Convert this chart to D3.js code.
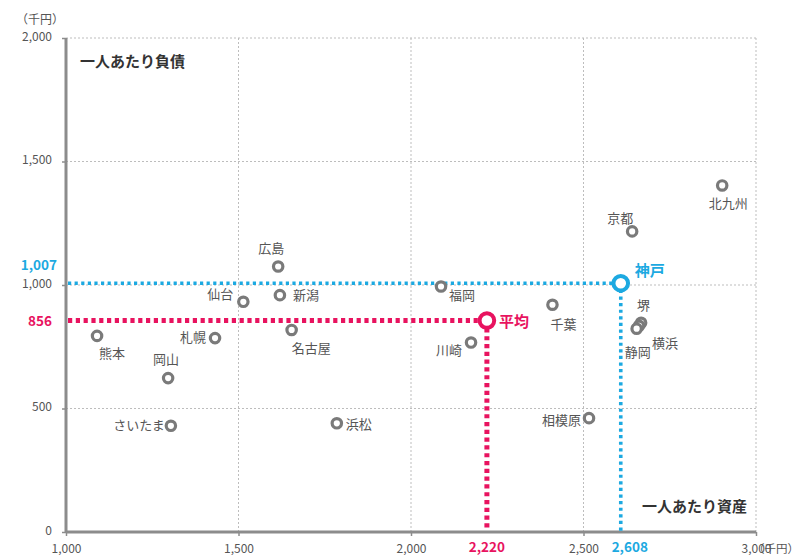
<!DOCTYPE html>
<html><head><meta charset="utf-8">
<script src="https://cdn.jsdelivr.net/npm/d3@7"></script>
<style>
html,body{margin:0;padding:0;background:#fff;}
svg{display:block;font-family:"Noto Sans CJK JP","Noto Sans",sans-serif;}
</style></head>
<body><svg id="c" width="798" height="555"></svg>
<script>
// ---- data ----
const cities = ["熊本","岡山","さいたま","札幌","仙台","広島","新潟","名古屋","浜松","福岡","千葉","川崎","京都","北九州","堺","横浜","静岡","相模原"];
const assets = [1090,1296,1304,1432,1514,1615,1620,1654,1785,2087,2410,2174,2641,2902,2667,2661,2654,2516];
const debts  = [794,623,430,785,932,1075,959,818,440,994,920,767,1217,1403,847,835,823,461];
const kobe = {name:"神戸", asset:2608, debt:1007};
const avg  = {name:"平均", asset:2220, debt:856};
const xTicks = [1000,1500,2000,2500,3000];
const yTicks = [0,500,1000,1500,2000];
const unitLabel = "（千円）";
const yTitle = "一人あたり負債";
const xTitle = "一人あたり資産";

// ---- layout ----
const svg = d3.select("#c");
const x = d3.scaleLinear().domain([1000,3000]).range([66,756]);
const y = d3.scaleLinear().domain([0,2000]).range([532,38]);
const fmt = d3.format(",");
const gray = "#7a7a7a", txt = "#555", blue = "#1ca9e1", pink = "#e8135f";

// grid
svg.append("g").selectAll("line").data(yTicks.filter(d=>d>0)).join("line")
  .attr("x1",x(1000)).attr("x2",x(3000)).attr("y1",d=>y(d)).attr("y2",d=>y(d))
  .attr("stroke","#bdbdbd").attr("stroke-width",1).attr("stroke-dasharray","2 2");
svg.append("g").selectAll("line").data(xTicks.filter(d=>d>1000)).join("line")
  .attr("y1",y(0)).attr("y2",y(2000)).attr("x1",d=>x(d)).attr("x2",d=>x(d))
  .attr("stroke","#bdbdbd").attr("stroke-width",1).attr("stroke-dasharray","2 2");

// axes
const yAxis = svg.append("g").attr("transform",`translate(${x(1000)},0)`)
  .call(d3.axisLeft(y).tickValues(yTicks).tickFormat(fmt).tickSize(4).tickPadding(10));
const xAxis = svg.append("g").attr("transform",`translate(0,${y(0)})`)
  .call(d3.axisBottom(x).tickValues(xTicks).tickFormat(fmt).tickSize(4).tickPadding(8));
[yAxis,xAxis].forEach(g=>{
  g.select(".domain").attr("stroke","#8c8c8c").attr("stroke-width",3);
  g.selectAll(".tick line").attr("stroke","#8c8c8c").attr("stroke-width",1.5);
  g.selectAll(".tick text").attr("fill",txt).attr("font-size",12)
   .attr("font-family",'"Noto Sans CJK JP",sans-serif');
});
yAxis.select(".domain").attr("d",`M0,${y(2000)}V${y(0)}`);
xAxis.select(".domain").attr("d",`M${x(1000)},0H${x(3000)}`);
yAxis.selectAll(".tick text").attr("dy","0.2em");

// unit labels
svg.append("text").attr("x",16).attr("y",24).attr("font-size",12).attr("fill",txt).text(unitLabel);
svg.append("text").attr("x",753).attr("y",553).attr("font-size",11.5).attr("fill",txt).text(unitLabel);

// titles
svg.append("text").attr("x",80).attr("y",67).attr("font-size",15).attr("font-weight","bold").attr("fill","#333").text(yTitle);
svg.append("text").attr("x",747).attr("y",512).attr("text-anchor","end").attr("font-size",15).attr("font-weight","bold").attr("fill","#333").text(xTitle);

// reference lines
function refLines(d,color,w,dash){
  svg.append("line").attr("x1",x(1000)+2).attr("x2",x(d.asset)).attr("y1",y(d.debt)).attr("y2",y(d.debt))
    .attr("stroke",color).attr("stroke-width",w).attr("stroke-dasharray",dash);
  svg.append("line").attr("x1",x(d.asset)).attr("x2",x(d.asset)).attr("y1",y(d.debt)).attr("y2",y(0)-1)
    .attr("stroke",color).attr("stroke-width",w).attr("stroke-dasharray",dash);
}
refLines(avg,pink,5,"4.2 3.6");
refLines(kobe,blue,3.6,"3.2 3.4");

// city points
const pts = cities.map((c,i)=>({name:c,asset:assets[i],debt:debts[i]}));
svg.append("g").selectAll("circle").data(pts).join("circle")
  .attr("cx",d=>x(d.asset)).attr("cy",d=>y(d.debt)).attr("r",4.7)
  .attr("fill","#fff").attr("stroke",gray).attr("stroke-width",3.2);

// label placement (dx, dy, anchor)
const place = {
  "熊本":[15,22,"middle"], "岡山":[-2,-14,"middle"], "さいたま":[-6,4,"end"],
  "札幌":[-9,4,"end"], "仙台":[-10,-3,"end"], "広島":[-7,-13,"middle"],
  "新潟":[13,5,"start"], "名古屋":[0,23,"start"], "浜松":[9,6,"start"],
  "福岡":[8,14,"start"], "千葉":[11,24,"middle"], "川崎":[-9,12,"end"],
  "京都":[1,-8,"end"], "北九州":[6,23,"middle"], "堺":[-4,-13,"start"],
  "横浜":[13,22,"start"], "静岡":[-12,28,"start"], "相模原":[-8,7,"end"]
};
svg.append("g").selectAll("text").data(pts).join("text")
  .attr("x",d=>x(d.asset)+place[d.name][0]).attr("y",d=>y(d.debt)+place[d.name][1])
  .attr("text-anchor",d=>place[d.name][2]).attr("font-size",13).attr("fill",txt)
  .text(d=>d.name);

// highlighted points
[[avg,pink],[kobe,blue]].forEach(([d,c])=>{
  svg.append("circle").attr("cx",x(d.asset)).attr("cy",y(d.debt)).attr("r",7.3)
    .attr("fill","#fff").attr("stroke",c).attr("stroke-width",4);
});
svg.append("text").attr("x",x(kobe.asset)+14).attr("y",y(kobe.debt)-7).attr("font-size",15).attr("font-weight","bold").attr("fill",blue).text(kobe.name);
svg.append("text").attr("x",x(avg.asset)+12).attr("y",y(avg.debt)+6).attr("font-size",15).attr("font-weight","bold").attr("fill",pink).text(avg.name);

// highlighted values on axes
svg.append("text").attr("x",57).attr("y",y(kobe.debt)-13).attr("text-anchor","end").attr("font-size",13.5).attr("font-weight","bold").attr("fill",blue).text(fmt(kobe.debt));
svg.append("text").attr("x",52).attr("y",y(avg.debt)+5).attr("text-anchor","end").attr("font-size",13.5).attr("font-weight","bold").attr("fill",pink).text(fmt(avg.debt));
svg.append("text").attr("x",x(avg.asset)).attr("y",552).attr("text-anchor","middle").attr("font-size",13.5).attr("font-weight","bold").attr("fill",pink).text(fmt(avg.asset));
svg.append("text").attr("x",x(kobe.asset)+9).attr("y",552).attr("text-anchor","middle").attr("font-size",13.5).attr("font-weight","bold").attr("fill",blue).text(fmt(kobe.asset));
</script></body></html>
